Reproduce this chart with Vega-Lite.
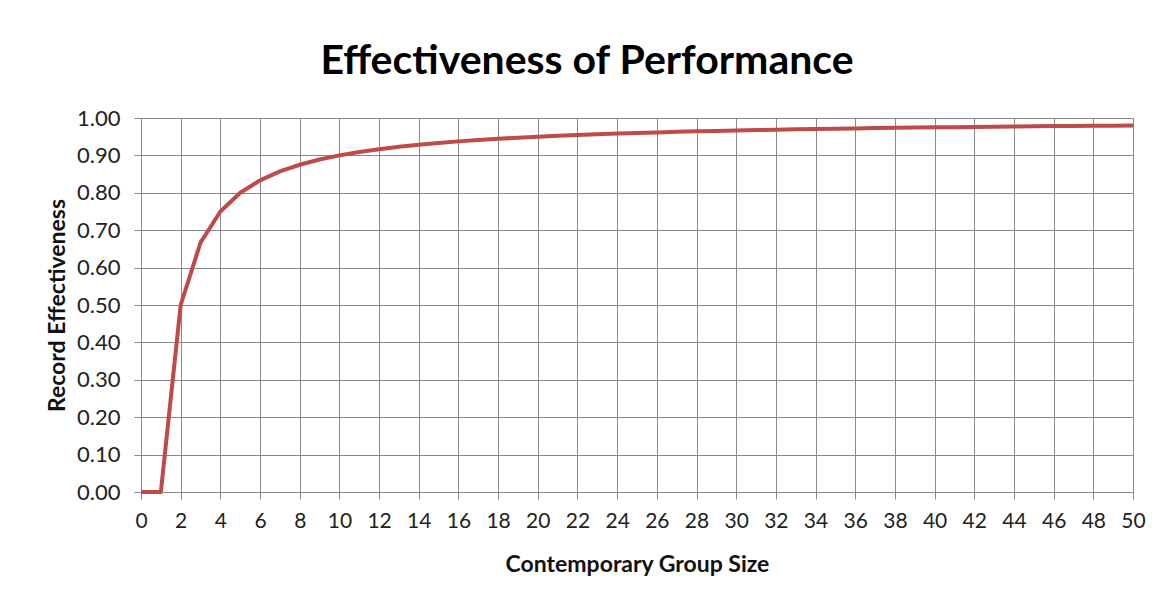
{
  "$schema": "https://vega.github.io/schema/vega-lite/v6.json",
  "width": 992,
  "height": 374,
  "autosize": "none",
  "padding": {"left": 141, "top": 118, "right": 27, "bottom": 113},
  "background": "white",
  "title": {
    "text": "Effectiveness of Performance",
    "font": "Lato",
    "fontSize": 41,
    "fontWeight": "bold",
    "color": "#000000",
    "anchor": "middle",
    "dx": -50,
    "baseline": "alphabetic",
    "offset": 46,
    "dy": 54
  },
  "data": {
    "values": [
      {"size": 0, "eff": 0}, {"size": 1, "eff": 0}, {"size": 2, "eff": 0.5}, {"size": 3, "eff": 0.6667},
      {"size": 4, "eff": 0.75}, {"size": 5, "eff": 0.8}, {"size": 6, "eff": 0.8333}, {"size": 7, "eff": 0.8571},
      {"size": 8, "eff": 0.875}, {"size": 9, "eff": 0.8889}, {"size": 10, "eff": 0.9}, {"size": 11, "eff": 0.9091},
      {"size": 12, "eff": 0.9167}, {"size": 13, "eff": 0.9231}, {"size": 14, "eff": 0.9286}, {"size": 15, "eff": 0.9333},
      {"size": 16, "eff": 0.9375}, {"size": 17, "eff": 0.9412}, {"size": 18, "eff": 0.9444}, {"size": 19, "eff": 0.9474},
      {"size": 20, "eff": 0.95}, {"size": 21, "eff": 0.9524}, {"size": 22, "eff": 0.9545}, {"size": 23, "eff": 0.9565},
      {"size": 24, "eff": 0.9583}, {"size": 25, "eff": 0.96}, {"size": 26, "eff": 0.9615}, {"size": 27, "eff": 0.963},
      {"size": 28, "eff": 0.9643}, {"size": 29, "eff": 0.9655}, {"size": 30, "eff": 0.9667}, {"size": 31, "eff": 0.9677},
      {"size": 32, "eff": 0.9688}, {"size": 33, "eff": 0.9697}, {"size": 34, "eff": 0.9706}, {"size": 35, "eff": 0.9714},
      {"size": 36, "eff": 0.9722}, {"size": 37, "eff": 0.973}, {"size": 38, "eff": 0.9737}, {"size": 39, "eff": 0.9744},
      {"size": 40, "eff": 0.975}, {"size": 41, "eff": 0.9756}, {"size": 42, "eff": 0.9762}, {"size": 43, "eff": 0.9767},
      {"size": 44, "eff": 0.9773}, {"size": 45, "eff": 0.9778}, {"size": 46, "eff": 0.9783}, {"size": 47, "eff": 0.9787},
      {"size": 48, "eff": 0.9792}, {"size": 49, "eff": 0.9796}, {"size": 50, "eff": 0.98}
    ]
  },
  "mark": {"type": "line", "color": "#BE4B48", "strokeWidth": 4, "strokeJoin": "round", "strokeCap": "butt"},
  "encoding": {
    "x": {
      "field": "size",
      "type": "quantitative",
      "scale": {"domain": [0, 50], "nice": false, "zero": false},
      "axis": {
        "title": "Contemporary Group Size",
        "values": [0,2,4,6,8,10,12,14,16,18,20,22,24,26,28,30,32,34,36,38,40,42,44,46,48,50],
        "labelFontSize": 21,
        "labelPadding": 11,
        "labelFlush": false,
        "labelOverlap": false,
        "titlePadding": 22,
        "titleFontSize": 23
      }
    },
    "y": {
      "field": "eff",
      "type": "quantitative",
      "scale": {"domain": [0, 1], "nice": false},
      "axis": {
        "title": "Record Effectiveness",
        "values": [0, 0.1, 0.2, 0.3, 0.4, 0.5, 0.6, 0.7, 0.8, 0.9, 1.0],
        "format": ".2f",
        "labelFontSize": 22,
        "labelPadding": 14,
        "labelFlush": false,
        "titlePadding": 7,
        "titleFontSize": 23
      }
    }
  },
  "config": {
    "font": "Lato",
    "view": {"stroke": "#8a8a8a", "strokeWidth": 1},
    "axis": {
      "grid": true,
      "gridColor": "#8a8a8a",
      "gridOpacity": 1,
      "gridWidth": 1,
      "domain": false,
      "ticks": true,
      "tickColor": "#8a8a8a",
      "tickSize": 7,
      "tickWidth": 1,
      "labelFont": "Lato",
      "labelColor": "#222222",
      "titleFont": "Lato",
      "titleFontWeight": "bold",
      "titleColor": "#111111"
    }
  }
}
